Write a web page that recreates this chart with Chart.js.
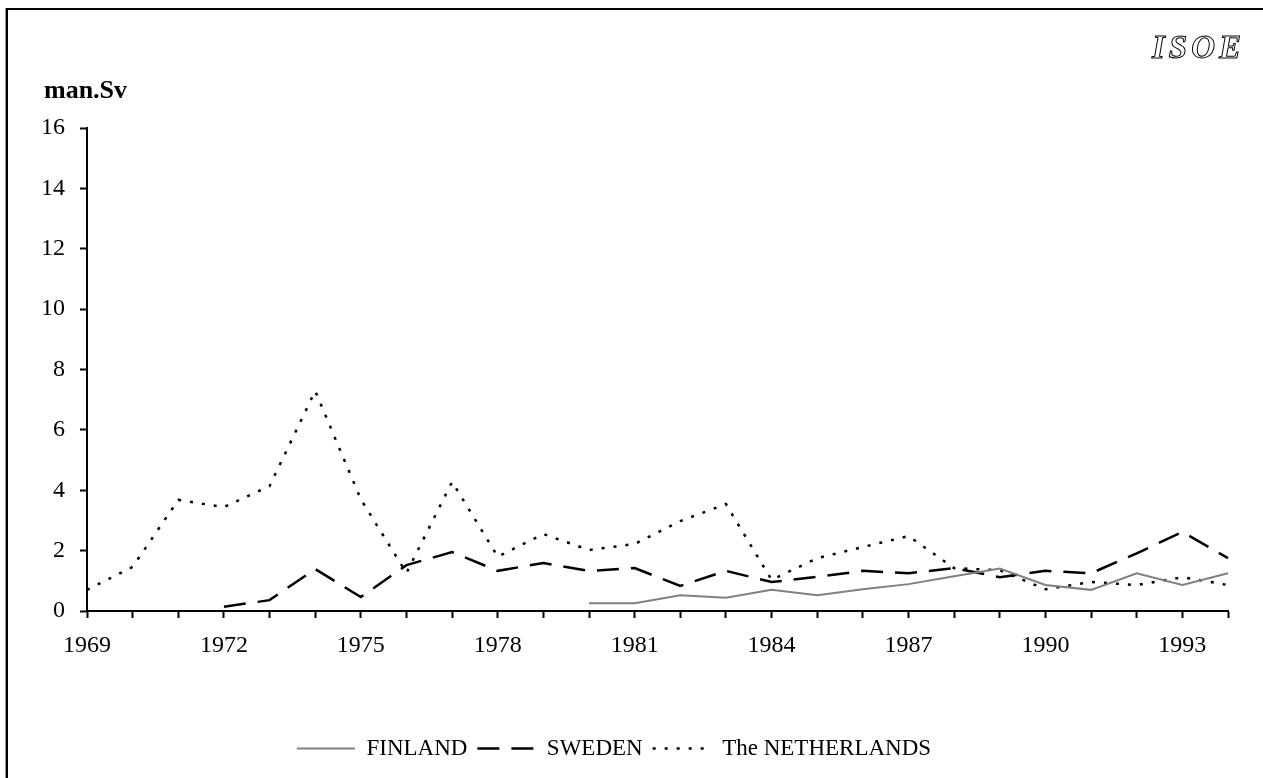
<!DOCTYPE html>
<html>
<head>
<meta charset="utf-8">
<script src="https://cdn.jsdelivr.net/npm/chart.js@4"></script>
<style>
  html, body { margin: 0; padding: 0; background: #fff; }
  #wrap { position: relative; width: 1263px; height: 778px; }
</style>
</head>
<body>
<div id="wrap"><canvas id="chart" width="1263" height="778"></canvas></div>
<script>
const years = ['1969','1970','1971','1972','1973','1974','1975','1976','1977','1978','1979','1980','1981',
               '1982','1983','1984','1985','1986','1987','1988','1989','1990','1991','1992','1993','1994'];
const shownYears = ['1969','1972','1975','1978','1981','1984','1987','1990','1993'];

const finland = [null, null, null, null, null, null, null, null, null, null, null,
                 0.26, 0.26, 0.52, 0.44, 0.70, 0.52, 0.72, 0.89, 1.15, 1.41, 0.86, 0.70, 1.25, 0.86, 1.25];
const sweden = [null, null, null, 0.14, 0.36, 1.39, 0.46, 1.52, 1.95, 1.33, 1.59, 1.33, 1.42,
                0.83, 1.33, 0.96, 1.13, 1.33, 1.25, 1.42, 1.12, 1.33, 1.25, 1.91, 2.62, 1.75];
const netherlands = [0.70, 1.46, 3.68, 3.44, 4.14, 7.29, 3.70, 1.26, 4.28, 1.80, 2.55, 2.02, 2.22,
                     2.98, 3.54, 1.03, 1.75, 2.12, 2.48, 1.42, 1.35, 0.72, 0.96, 0.86, 1.12, 0.86];

const serif = "'Liberation Serif', 'Times New Roman', serif";

// frame, unit label and the ISOE mark
const decorations = {
    id: 'decorations',
    afterDraw(chart) {
        const ctx = chart.ctx;
        ctx.save();
        ctx.fillStyle = '#999';
        ctx.fillRect(5, 8, 1, 770);
        ctx.fillStyle = '#000';
        ctx.fillRect(6, 8, 2, 770);
        ctx.fillRect(6, 8, 1257, 2);

        ctx.font = 'bold 26px ' + serif;
        ctx.fillStyle = '#000';
        ctx.textBaseline = 'alphabetic';
        ctx.fillText('man.Sv', 44, 98);

        ctx.font = 'italic bold 33px ' + serif;
        ctx.letterSpacing = '4px';
        ctx.lineWidth = 1;
        ctx.strokeStyle = '#000';
        ctx.fillStyle = '#fff';
        ctx.fillText('ISOE', 1152, 58);
        ctx.strokeText('ISOE', 1152, 58);
        ctx.restore();
    }
};

new Chart(document.getElementById('chart'), {
    type: 'line',
    data: {
        labels: years,
        datasets: [{
            label: 'FINLAND',
            data: finland,
            borderColor: '#808080',
            backgroundColor: '#808080',
            borderWidth: 2,
            pointRadius: 0,
            tension: 0
        }, {
            label: 'SWEDEN',
            data: sweden,
            borderColor: '#000',
            backgroundColor: '#000',
            borderWidth: 2.5,
            borderDash: [22, 12],
            pointRadius: 0,
            tension: 0
        }, {
            label: 'The NETHERLANDS',
            data: netherlands,
            borderColor: '#000',
            backgroundColor: '#000',
            borderWidth: 2.5,
            borderDash: [3, 9],
            pointRadius: 0,
            tension: 0
        }]
    },
    options: {
        responsive: false,
        animation: false,
        layout: { padding: { left: 0, right: 35, top: 128, bottom: 8 } },
        plugins: {
            tooltip: { enabled: false },
            legend: {
                position: 'bottom',
                labels: {
                    usePointStyle: true,
                    pointStyle: 'line',
                    pointStyleWidth: 58,
                    padding: 10,
                    color: '#000',
                    font: { family: serif, size: 23 },
                    generateLabels(chart) {
                        const items = Chart.defaults.plugins.legend.labels.generateLabels(chart);
                        items.forEach(item => {
                            const ds = chart.data.datasets[item.datasetIndex];
                            item.lineDash = ds.borderDash || [];
                            item.lineWidth = ds.borderWidth;
                            item.strokeStyle = ds.borderColor;
                        });
                        return items;
                    }
                }
            }
        },
        scales: {
            x: {
                offset: false,
                afterFit(scale) { scale.height = 116; },
                grid: {
                    drawOnChartArea: false,
                    drawTicks: true,
                    tickLength: 7,
                    tickWidth: 2,
                    tickColor: '#000'
                },
                border: { display: true, color: '#000', width: 2 },
                ticks: {
                    autoSkip: false,
                    maxRotation: 0,
                    padding: 13,
                    color: '#000',
                    font: { family: serif, size: 24 },
                    callback(value) {
                        const y = this.getLabelForValue(value);
                        return shownYears.includes(y) ? y : '';
                    }
                }
            },
            y: {
                min: 0,
                max: 16,
                afterFit(scale) { scale.width = 87; },
                grid: {
                    drawOnChartArea: false,
                    drawTicks: true,
                    tickLength: 7,
                    tickWidth: 2,
                    tickColor: '#000'
                },
                border: { display: true, color: '#000', width: 2 },
                ticks: {
                    stepSize: 2,
                    padding: 15,
                    color: '#000',
                    font: { family: serif, size: 24 }
                }
            }
        }
    },
    plugins: [decorations]
});
</script>
</body>
</html>
